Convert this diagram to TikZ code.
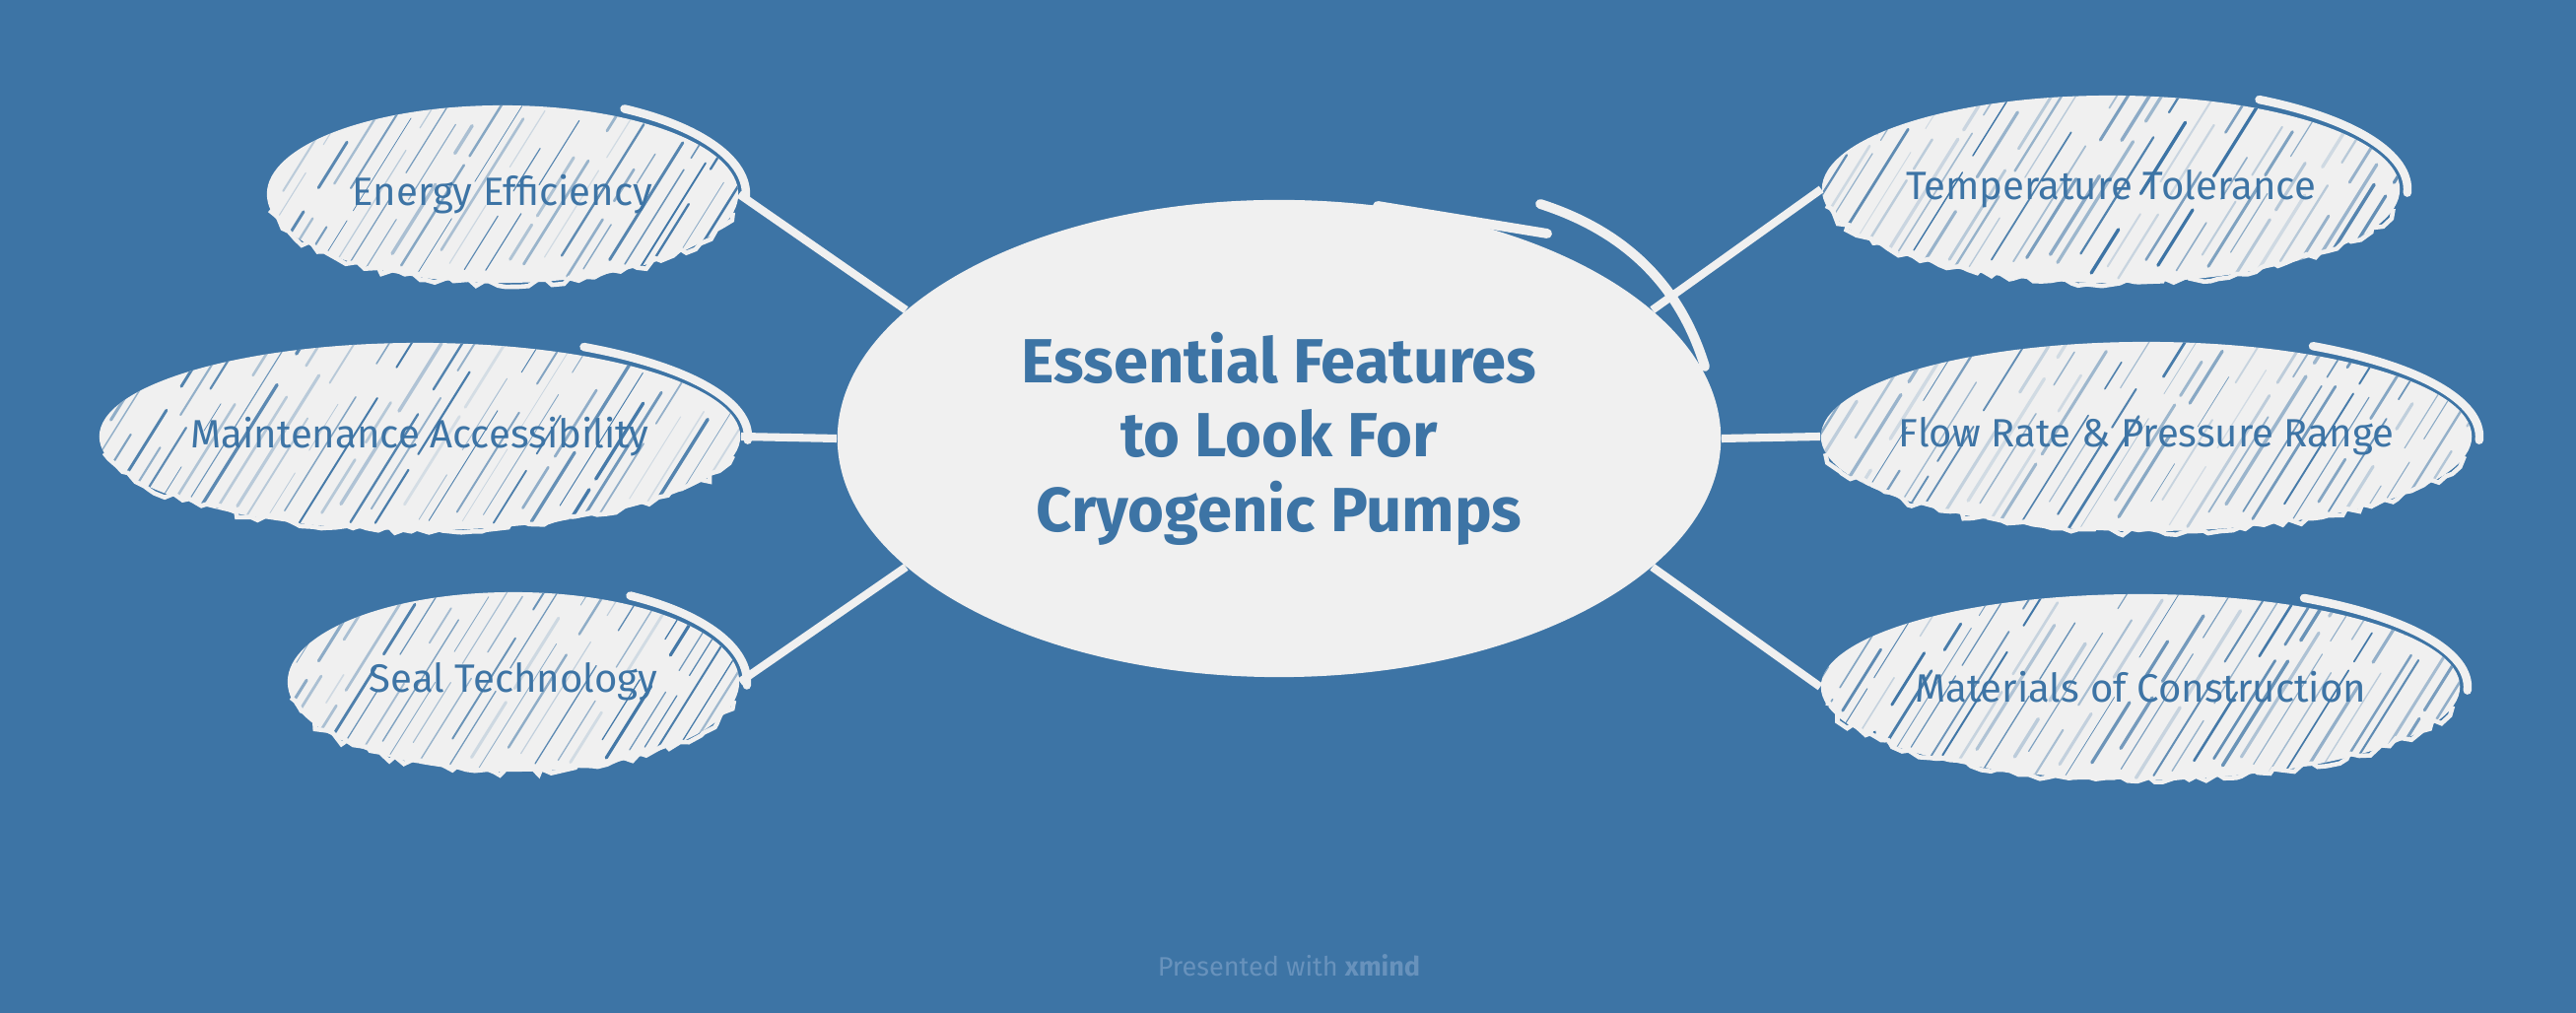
\documentclass[tikz,border=0pt]{standalone}
\usepackage{fontspec}
\setmainfont{Fira Sans}
\usetikzlibrary{shapes.geometric,decorations.pathmorphing}
\definecolor{bgblue}{HTML}{3D74A5}
\definecolor{paper}{HTML}{F0F0F0}
\definecolor{faint}{HTML}{6892BC}
\tikzset{
  mainidea/.style={ellipse, fill=paper, text=bgblue, align=center, inner sep=0pt,
    font=\fontsize{18}{21.5}\selectfont\bfseries},
  topicbox/.style={ellipse, fill=paper, text=bgblue, inner sep=0pt,
    font=\fontsize{11.4}{13}\selectfont},
  hatchline/.style={draw=bgblue, line cap=round},
  sketch/.style={draw=paper, line width=2.4pt, line cap=round},
  rough/.style={draw=paper, line width=1.3pt, decorate,
    decoration={random steps, segment length=2.5pt, amplitude=1.2pt}},
  branch/.style={draw=paper, line width=2.3pt},
  footer/.style={text=faint, font=\fontsize{7.7}{9}\selectfont}
}
\newcommand{\hatch}{%
  \foreach \i in {0,...,48} {
    \pgfmathsetmacro{\xo}{\i*17-150+10*rnd}
    \pgfmathsetmacro{\lw}{0.2+0.8*rnd}
    \pgfmathsetmacro{\op}{0.15+0.85*rnd}
    \pgfmathsetmacro{\sa}{40*rnd}
    \pgfmathsetmacro{\la}{40+120*rnd}
    \pgfmathsetmacro{\ga}{10+40*rnd}
    \pgfmathsetmacro{\lb}{30+100*rnd}
    \draw[hatchline, line width=\lw pt, opacity=\op] (path picture bounding box.south west)
      ++(\xo,0) ++(-58:\sa) -- ++(-58:\la) ++(-58:\ga) -- ++(-58:\lb);
  }}
% name, x, y, x radius, y radius, label
\newcommand{\topic}[6]{%
  \pgfmathsetmacro{\topicw}{#4*0.02}
  \pgfmathsetmacro{\topich}{#5*0.02}
  \node[topicbox, minimum width=\topicw cm, minimum height=\topich cm,
    path picture={\hatch}] (#1) at (#2,#3) {\makebox[0pt]{#6}};
  \draw[rough] (#1.center) ++(12:{#4} and {#5}) arc[start angle=12, end angle=170, x radius=#4, y radius=#5];
  \pgfmathsetmacro{\ax}{#4+8}
  \pgfmathsetmacro{\ay}{#5+10}
  \draw[sketch] (#1.center) ++(-60:{\ax} and {\ay}) arc[start angle=-60, end angle=2, x radius=\ax, y radius=\ay];
}

\begin{document}
\begin{tikzpicture}[x=0.01cm, y=-0.01cm]
    \pgfmathsetseed{11}
    \path[use as bounding box, fill=bgblue] (0,0) rectangle (2614,1028);

    \node[mainidea, minimum width=8.96cm, minimum height=4.84cm] (pumps) at (1298,445)
      {Essential Features\\to Look For\\Cryogenic Pumps};
    \draw[sketch, line width=2.8pt] (pumps.center) ++(100,-236) -- ++(172,28);
    \draw[sketch, line width=2.8pt] (1563,207) .. controls (1650,235) and (1705,290) .. (1730,372);

    \topic{energy}{510}{197}{239}{90}{Energy Efficiency}
    \topic{upkeep}{426}{443}{325}{95}{Maintenance Accessibility}
    \topic{seal}{521}{692}{229}{91}{Seal Technology}
    \topic{temp}{2142}{192}{293}{95}{Temperature Tolerance}
    \topic{flow}{2178}{443}{330}{96}{Flow Rate \& Pressure Range}
    \topic{material}{2172}{697}{324}{94}{Materials of Construction}

    \draw[branch] (energy.east) -- (pumps.161);
    \draw[branch] (upkeep.east) -- (pumps.west);
    \draw[branch] (seal.east) -- (pumps.199);
    \draw[branch] (temp.west) -- (pumps.19);
    \draw[branch] (flow.west) -- (pumps.east);
    \draw[branch] (material.west) -- (pumps.-19);

    \node[footer] (credit) at (1308,980) {Presented with \textbf{xmind}};
\end{tikzpicture}
\end{document}
